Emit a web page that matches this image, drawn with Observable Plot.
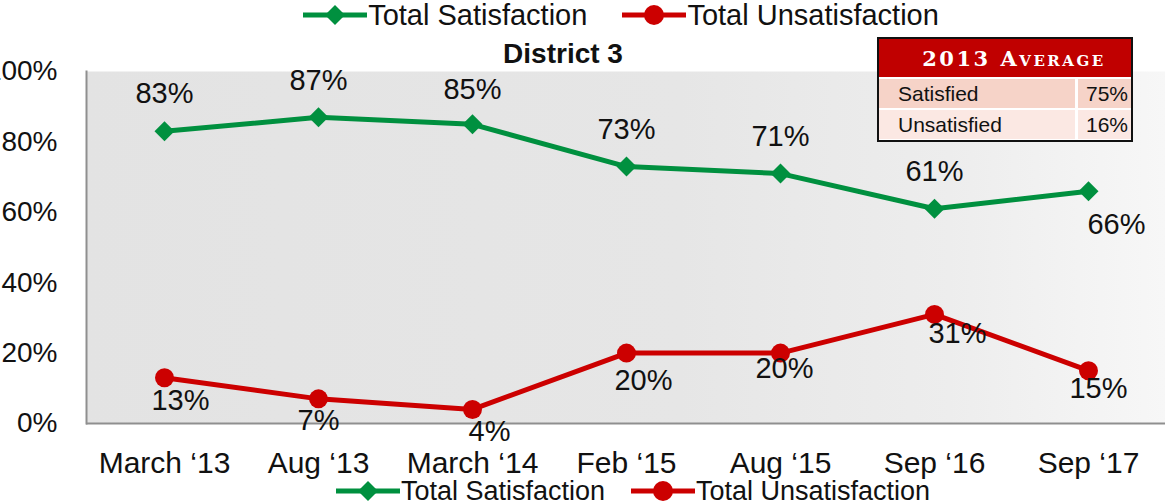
<!DOCTYPE html>
<html>
<head>
<meta charset="utf-8">
<script src="https://cdn.jsdelivr.net/npm/d3@7"></script>
<script src="https://cdn.jsdelivr.net/npm/@observablehq/plot@0.6"></script>
<style>
  body { margin: 0; background: #fff; font-family: "Liberation Sans", Arial, sans-serif; }
  #wrap { position: relative; width: 1165px; height: 504px; overflow: hidden; background: #fff; }
  .legend { display: flex; justify-content: center; align-items: center; width: 1165px; box-sizing: border-box;
            white-space: nowrap; font-size: 29px; color: #111; }
  .legend .item { display: flex; align-items: center; }
  .legend svg { display: block; }
  #legendTop { height: 30px; line-height: 30px; padding-left: 76px; }
  #legendBottom { height: 26px; line-height: 26px; padding-left: 100px; font-size: 27px; }
  #chart svg { display: block; }
  #avg { position: absolute; left: 877px; top: 37px; width: 256px; height: 105px; box-sizing: border-box;
         border: 2px solid #111; background: #fff; }
  #avg .hdr { height: 38px; background: #c00000; color: #fff; font-family: "DejaVu Serif", serif; font-weight: bold;
              font-variant: small-caps; font-size: 21px; letter-spacing: 2.5px; line-height: 40px; text-align: center;
              padding-left: 18px; box-sizing: border-box; }
  #avg .row { display: flex; height: 29px; margin-top: 2px; font-size: 21px; color: #111; }
  #avg .row .k { flex: 0 0 196px; padding-left: 19px; box-sizing: border-box; line-height: 29px; }
  #avg .row .v { flex: 1; margin-left: 3px; text-align: right; padding-right: 3px; line-height: 29px; }
</style>
</head>
<body>
<div id="wrap">
  <div id="legendTop" class="legend"></div>
  <div id="chart"></div>
  <div id="legendBottom" class="legend"></div>
  <div id="avg"></div>
</div>
<script>
// ---- data ----
const categories = ["March \u201813", "Aug \u201813", "March \u201814", "Feb \u201815", "Aug \u201815", "Sep \u201816", "Sep \u201817"];
const satisfaction = [0.83, 0.87, 0.85, 0.73, 0.71, 0.61, 0.66];
const unsatisfaction = [0.13, 0.07, 0.04, 0.20, 0.20, 0.31, 0.15];
const yTicks = [0, 0.2, 0.4, 0.6, 0.8, 1.0];
const seriesNames = ["Total Satisfaction", "Total Unsatisfaction"];
const chartTitle = "District 3";
const avgTitle = "2013 Average";
const avgLabels = ["Satisfied", "Unsatisfied"];
const avgValues = [0.75, 0.16];

// ---- layout / style ----
const green = "#00903f", red = "#cc0000";
const satOffsets = [[0, -38], [0, -37], [0, -35], [0, -37], [0, -37], [0, -37], [28, 34]];
const unsatOffsets = [[16, 23], [0, 22], [17, 22], [17, 28], [4, 16], [23, 19], [10, 18]];
const pct = d3.format(".0%");

const satRows = categories.map((c, i) => ({cat: c, value: satisfaction[i]}));
const unsatRows = categories.map((c, i) => ({cat: c, value: unsatisfaction[i]}));

function labelMarks(rows, offsets) {
  return rows.map((r, i) => Plot.text([r], {
    x: "cat", y: "value", text: d => pct(d.value),
    dx: offsets[i][0], dy: offsets[i][1], fontSize: 29, fill: "#111"
  }));
}

const chart = Plot.plot({
  width: 1165,
  height: 448,
  marginLeft: 86,
  marginRight: 0,
  marginTop: 41,
  marginBottom: 55,
  style: {fontFamily: "'Liberation Sans', Arial, sans-serif", color: "#111", background: "transparent", overflow: "visible"},
  x: {type: "point", domain: categories, padding: 0.5, label: null},
  y: {domain: [0, 1], label: null},
  marks: [
    Plot.frame({fill: "url(#bgGrad)", stroke: null}),
    Plot.frame({anchor: "left", stroke: "#8f8f8f", strokeWidth: 2}),
    Plot.ruleY([0], {stroke: "#8f8f8f", strokeWidth: 2}),
    Plot.axisX({tickSize: 0, tickPadding: 28, fontSize: 30, fill: "#111", label: null}),
    Plot.axisY({ticks: yTicks, tickFormat: pct, tickSize: 0, tickPadding: 29, fontSize: 28, fill: "#111", label: null}),
    Plot.line(satRows, {x: "cat", y: "value", stroke: green, strokeWidth: 5}),
    Plot.line(unsatRows, {x: "cat", y: "value", stroke: red, strokeWidth: 5}),
    Plot.dot(satRows, {x: "cat", y: "value", symbol: "diamond2", r: 9, fill: green}),
    Plot.dot(unsatRows, {x: "cat", y: "value", r: 9.5, fill: red}),
    ...labelMarks(satRows, satOffsets),
    ...labelMarks(unsatRows, unsatOffsets),
    Plot.text([chartTitle], {frameAnchor: "top", lineAnchor: "middle", text: d => d, dx: -63, dy: -17, fontSize: 28, fontWeight: "bold", fill: "#111"})
  ]
});

// gradient for plot background
const svgSel = d3.select(chart);
const grad = svgSel.insert("defs", ":first-child").append("linearGradient")
  .attr("id", "bgGrad").attr("x1", 0).attr("x2", 1).attr("y1", 0).attr("y2", 0);
[[0, "#e3e3e3"], [0.55, "#e6e6e6"], [0.8, "#ededed"], [1, "#f7f7f7"]].forEach(([o, c]) =>
  grad.append("stop").attr("offset", o).attr("stop-color", c));

document.getElementById("chart").appendChild(chart);

// legends
function swatch(i) {
  const color = i === 0 ? green : red;
  const s = d3.create("svg").attr("width", 66).attr("height", 30);
  s.append("line").attr("x1", 1).attr("x2", 65).attr("y1", 15).attr("y2", 15)
    .attr("stroke", color).attr("stroke-width", 5);
  if (i === 0) {
    s.append("path").attr("d", "M33,5L43,15L33,25L23,15Z").attr("fill", color);
  } else {
    s.append("circle").attr("cx", 33).attr("cy", 15).attr("r", 10).attr("fill", color);
  }
  return s.node();
}
function buildLegend(el, gap) {
  seriesNames.forEach((name, i) => {
    const item = document.createElement("div");
    item.className = "item";
    if (i > 0) item.style.marginLeft = gap + "px";
    item.appendChild(swatch(i));
    const t = document.createElement("span");
    t.textContent = name;
    item.appendChild(t);
    el.appendChild(item);
  });
}
buildLegend(document.getElementById("legendTop"), 34);
buildLegend(document.getElementById("legendBottom"), 25);

// average box
const avg = document.getElementById("avg");
const hdr = document.createElement("div");
hdr.className = "hdr";
hdr.textContent = avgTitle;
avg.appendChild(hdr);
const rowColors = ["#f6d3c8", "#fbe8e3"];
avgLabels.forEach((lab, i) => {
  const row = document.createElement("div");
  row.className = "row";
  const k = document.createElement("span");
  k.className = "k"; k.textContent = lab; k.style.background = rowColors[i];
  const v = document.createElement("span");
  v.className = "v"; v.textContent = pct(avgValues[i]); v.style.background = rowColors[i];
  row.appendChild(k); row.appendChild(v);
  avg.appendChild(row);
});
</script>
</body>
</html>
